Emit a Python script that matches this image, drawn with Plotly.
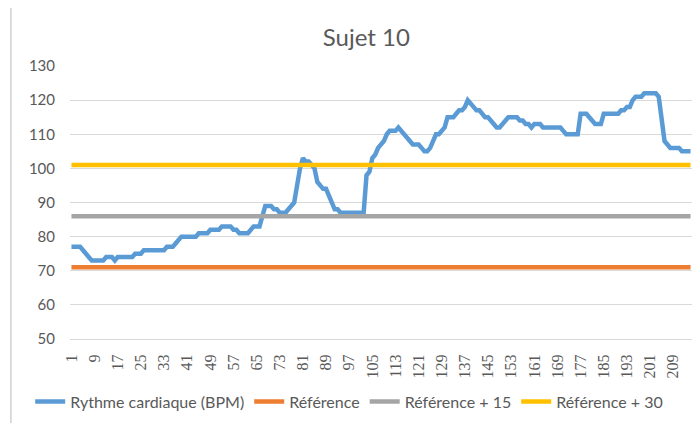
import plotly.graph_objects as go

categories = list(range(1, 216))

heart_rate = (
    [77, 77, 77, 77, 76, 75, 74, 73, 73, 73, 73, 73, 74, 74, 74, 73, 74, 74, 74, 74,
     74, 74, 75, 75, 75, 76, 76, 76, 76, 76, 76, 76, 76, 77, 77, 77, 78, 79, 80, 80,
     80, 80, 80, 80, 81, 81, 81, 81, 82, 82, 82, 82, 83, 83, 83, 83, 82, 82, 81, 81,
     81, 81, 82, 83, 83, 83, 86, 89, 89, 89, 88, 88, 87, 87, 87, 88, 89, 90, 95, 100,
     103, 102, 102, 101, 100, 96, 95, 94, 94, 92, 90, 88, 88, 87, 87, 87, 87, 87, 87, 87,
     87, 87, 98, 99, 103, 104, 106, 107, 108, 110, 111, 111, 111, 112, 111, 110, 109, 108, 107, 107,
     107, 106, 105, 105, 106, 108, 110, 110, 111, 112, 115, 115, 115, 116, 117, 117, 118, 120, 119, 118,
     117, 117, 116, 115, 115, 114, 113, 112, 112, 113, 114, 115, 115, 115, 115, 114, 114, 113, 113, 112,
     113, 113, 113, 112, 112, 112, 112, 112, 112, 112, 111, 110, 110, 110, 110, 110, 116, 116, 116, 115,
     114, 113, 113, 113, 116, 116, 116, 116, 116, 116, 117, 117, 118, 118, 120, 121, 121, 121, 122, 122,
     122, 122, 122, 121, 113, 108, 107, 106, 106, 106, 106, 105, 105, 105, 105]
)

reference = [71] * len(categories)
reference_15 = [86] * len(categories)
reference_30 = [101] * len(categories)

x_tick_values = list(range(1, 216, 8))
y_tick_values = [50, 60, 70, 80, 90, 100, 110, 120, 130]

series = [
    ("Rythme cardiaque (BPM)", heart_rate, "#5B9BD5"),
    ("Référence", reference, "#ED7D31"),
    ("Référence + 15", reference_15, "#A5A5A5"),
    ("Référence + 30", reference_30, "#FFC000"),
]

fig = go.Figure()
for name, vals, color in series:
    fig.add_trace(go.Scatter(
        x=categories, y=vals, mode="lines", name=name,
        line=dict(color=color, width=4.5),
    ))

font_main = "Lato, 'Noto Sans', sans-serif"

fig.update_layout(
    width=700, height=423,
    paper_bgcolor="white", plot_bgcolor="white",
    margin=dict(l=62, r=16, t=58, b=92, autoexpand=False),
    title=dict(text="Sujet 10", x=0.512, xanchor="center", y=0.929, yanchor="middle",
               font=dict(family=font_main, size=24, color="#595959")),
    font=dict(family=font_main, color="#595959"),
    showlegend=True,
    legend=dict(orientation="h", x=-0.064, xanchor="left", y=-0.229, yanchor="middle",
                font=dict(family=font_main, size=16, color="#595959"),
                bgcolor="rgba(0,0,0,0)", itemwidth=30, tracegroupgap=0),
    xaxis=dict(
        range=[0.5, 215.5], tickmode="array", tickvals=x_tick_values,
        ticktext=[str(v) for v in x_tick_values], tickangle=-90,
        tickfont=dict(family="'Liberation Serif', serif", size=16, color="#595959"),
        showgrid=False, zeroline=False, showline=True, linecolor="#D9D9D9", linewidth=1,
        ticks="", ticklabelstandoff=8, automargin=False,
    ),
    yaxis=dict(
        range=[50, 130], tickmode="array", tickvals=y_tick_values,
        tickfont=dict(family=font_main, size=15, color="#595959"),
        showgrid=True, gridcolor="#D9D9D9", gridwidth=1, zeroline=False,
        showline=False, ticks="", ticklabelstandoff=14, automargin=False,
    ),
    shapes=[dict(type="rect", xref="paper", yref="paper",
                 x0=-0.095, x1=1.05, y0=-0.4, y1=1.218,
                 line=dict(color="#D0D0D0", width=1.5), fillcolor="rgba(0,0,0,0)",
                 layer="above")],
)

fig.write_html("out.html")
